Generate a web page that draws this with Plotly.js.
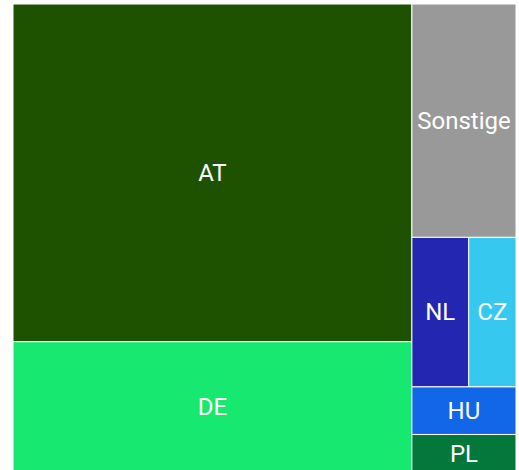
<!DOCTYPE html>
<html>
<head>
<meta charset="utf-8">
<script src="https://cdn.plot.ly/plotly-3.0.1.min.js"></script>
<style>html,body{margin:0;padding:0;background:#fff;overflow:hidden;}#chart{width:519px;height:473px;}</style>
</head>
<body>
<div id="chart"></div>
<script>
const labels = ["AT", "DE", "Sonstige", "NL", "CZ", "HU", "PL"];
const values = [57.1, 22.2, 10.3, 3.6, 3.0, 2.1, 1.7];
const colors = ["#1e5200", "#17e870", "#999999", "#2226b0", "#36c8ee", "#1167e8", "#04773b"];

const trace = {
  type: "treemap",
  labels: labels,
  parents: labels.map(() => ""),
  values: values,
  marker: { colors: colors, line: { color: "#ffffff", width: 1 }, pad: { t: 0, l: 0, r: 0, b: 0 } },
  tiling: { squarifyratio: 1.618, pad: 0 },
  textinfo: "label",
  textposition: "middle center",
  textfont: { family: "Roboto, sans-serif", size: 24, color: "#ffffff" },
  pathbar: { visible: false },
  sort: true,
  hoverinfo: "label+value"
};

Plotly.newPlot("chart", [trace], {
  width: 519, height: 473,
  margin: { l: 13, r: 3, t: 4, b: 0 },
  paper_bgcolor: "#ffffff",
  showlegend: false
}, { displayModeBar: false });
</script>
</body>
</html>
